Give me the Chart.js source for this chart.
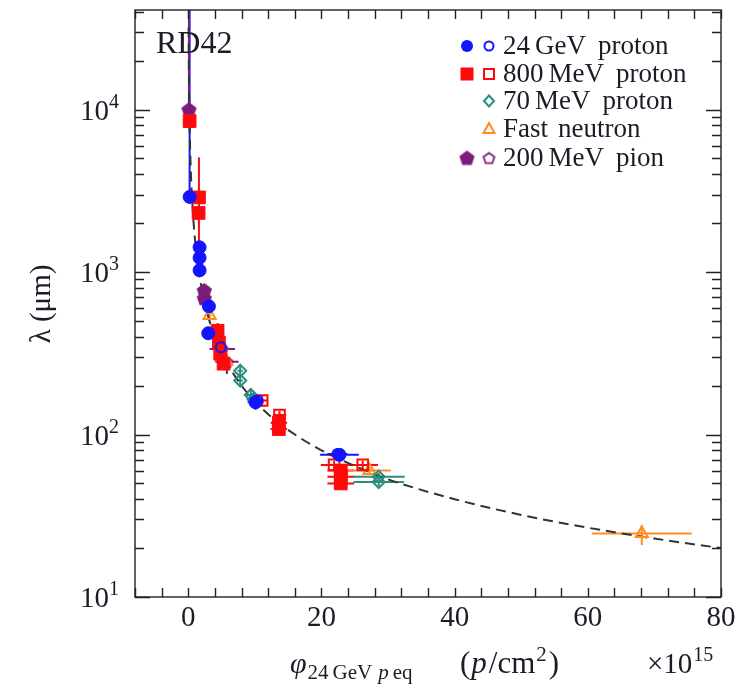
<!DOCTYPE html>
<html>
<head>
<meta charset="utf-8">
<script src="https://cdn.jsdelivr.net/npm/chart.js@4.4.1/dist/chart.umd.min.js"></script>
<style>
  html, body { margin: 0; padding: 0; background: #fff; }
  canvas { display: block; }
</style>
</head>
<body>
<canvas id="chart-lambda" width="751" height="688"></canvas>
<script>
// RD42 — mean free path vs fluence
const FONT = '"Liberation Serif", "DejaVu Serif", serif';
const INK = '#1c1c28';

// 24 GeV proton (filled / open)
const p24X = [0.2, 1.7, 1.7, 1.7, 3.1, 3.0, 10.1, 22.7];
const p24Y = [2900, 1420, 1225, 1025, 615, 420, 158, 75];
const p24Dx = [0, 0, 0, 0, 0.3, 0.8, 1.2, 2.9];
const p24Lo = [2900, 1330, 1150, 960, 580, 385, 142, 70];
const p24Hi = [1e6, 1510, 1300, 1090, 650, 460, 172, 81];

const p24oX = [4.9, 10.4, 22.4];
const p24oY = [345, 162, 76];
const p24oDx = [0.6, 1.0, 1.5];
const p24oLo = [320, 148, 71];
const p24oHi = [372, 176, 82];

// 800 MeV proton (filled / open)
const p800X = [0.2, 1.6, 1.55, 4.4, 4.6, 4.8, 5.3, 13.6, 13.6, 22.9, 22.9, 22.9];
const p800Y = [8500, 2880, 2310, 435, 368, 314, 273, 118, 108, 60, 55, 50];
const p800Dx = [0, 0, 0, 0.4, 0.4, 0.4, 0.4, 1.25, 1.25, 2.0, 2.0, 2.0];
const p800Lo = [8000, 1380, 2150, 390, 345, 275, 255, 110, 101, 57, 52, 47];
const p800Hi = [9000, 5080, 2480, 485, 392, 355, 292, 126, 115, 63, 58, 53];

const p800oX = [11.1, 13.7, 21.9, 26.2];
const p800oY = [162, 132, 65, 65];
const p800oDx = [0.9, 1.0, 2.0, 2.3];
const p800oLo = [152, 124, 61, 61];
const p800oHi = [172, 140, 69, 69];

// 70 MeV proton
const p70X = [5.0, 7.8, 7.8, 9.4, 9.8, 28.6, 28.6];
const p70Y = [336, 247, 215, 175, 165, 55, 51];
const p70Dx = [0.5, 0.4, 0.4, 1.0, 1.0, 3.9, 3.8];
const p70Lo = [315, 230, 200, 162, 152, 52, 48];
const p70Hi = [360, 265, 232, 188, 178, 58, 54];

// Fast neutron
const nX = [3.2, 5.7, 27.2, 68.1];
const nY = [540, 282, 60, 24.6];
const nDx = [0.3, 0.5, 3.2, 7.5];
const nLo = [500, 262, 57, 20.9];
const nHi = [585, 305, 63, 27.6];

// 200 MeV pion (filled / open)
const piX = [0.1, 2.4, 2.4];
const piY = [10000, 770, 690];
const piDx = [0, 0.3, 0.3];
const piLo = [9000, 720, 645];
const piHi = [1e6, 825, 740];

const pioX = [5.1, 5.8];
const pioY = [336, 280];
const pioDx = [1.9, 1.75];
const pioLo = [300, 236];
const pioHi = [375, 314];

// fit curve
const fitPhi = [0.05, 0.1, 0.2, 0.4, 0.7, 1, 1.5, 2, 3, 4, 5, 6, 8, 10, 13, 16, 20, 25, 30, 40, 50, 60, 70, 80];
const fitLambda = [32000, 16000, 8000, 4000, 2300, 1600, 1070, 800, 530, 400, 320, 267, 200, 160, 123, 100, 80, 64, 53, 40, 32, 26.7, 22.9, 20];

// axes
const yTickVals = [10, 20, 30, 40, 50, 60, 70, 80, 90,
  100, 200, 300, 400, 500, 600, 700, 800, 900,
  1000, 2000, 3000, 4000, 5000, 6000, 7000, 8000, 9000,
  10000, 20000, 30000, 40000];
const yDecades = [10, 100, 1000, 10000];
const yDecadeExp = ['1', '2', '3', '4'];

const COLORS = {
  blue: '#1414ff',
  red: '#ff0a0a',
  teal: '#2b8c80',
  orange: '#ff8c1e',
  purple: '#7d1a7d',
};

function points(xs, ys, dx, lo, hi) {
  return xs.map((x, i) => ({ x, y: ys[i], xMin: x - dx[i], xMax: x + dx[i], yMin: lo[i], yMax: hi[i] }));
}

function pentagon(size, color, filled, lw) {
  const c = document.createElement('canvas');
  c.width = size;
  c.height = size;
  const g = c.getContext('2d');
  const r = size / 2 - (filled ? 0.5 : lw);
  g.beginPath();
  for (let i = 0; i < 5; i++) {
    const a = -Math.PI / 2 + i * 2 * Math.PI / 5;
    const px = size / 2 + r * Math.cos(a);
    const py = size / 2 + 0.6 + r * Math.sin(a);
    if (i === 0) g.moveTo(px, py); else g.lineTo(px, py);
  }
  g.closePath();
  if (filled) {
    g.fillStyle = color;
    g.fill();
  } else {
    g.strokeStyle = color;
    g.lineWidth = lw;
    g.stroke();
  }
  return c;
}

const pentFilled = pentagon(17, COLORS.purple, true, 0);
const pentOpen = pentagon(15, COLORS.purple, false, 1.8);

function markerSet(label, data, color, style, radius, filled) {
  return {
    label,
    data,
    errColor: color,
    pointStyle: style,
    pointRadius: radius,
    pointBorderWidth: filled ? 1 : 2,
    pointBorderColor: color,
    pointBackgroundColor: filled ? color : 'rgba(0,0,0,0)',
    showLine: false,
  };
}

// error bars, drawn under the markers
const errorBars = {
  id: 'errorBars',
  beforeDatasetsDraw(chart) {
    const { ctx, chartArea: a, scales: { x, y } } = chart;
    ctx.save();
    ctx.beginPath();
    ctx.rect(a.left, a.top, a.right - a.left, a.bottom - a.top);
    ctx.clip();
    ctx.lineWidth = 2;
    chart.data.datasets.forEach((ds) => {
      if (!ds.errColor) return;
      ctx.strokeStyle = ds.errColor;
      ds.data.forEach((p) => {
        const px = x.getPixelForValue(p.x);
        const py = y.getPixelForValue(p.y);
        ctx.beginPath();
        if (p.xMax > p.xMin) {
          ctx.moveTo(x.getPixelForValue(p.xMin), py);
          ctx.lineTo(x.getPixelForValue(p.xMax), py);
        }
        if (p.yMax > p.yMin) {
          ctx.moveTo(px, y.getPixelForValue(p.yMin));
          ctx.lineTo(px, Math.max(y.getPixelForValue(p.yMax), a.top - 5));
        }
        ctx.stroke();
      });
    });
    ctx.restore();
  },
};

function drawRuns(ctx, runs, x, y) {
  // runs: [text, font, dy, gapAfter]
  runs.forEach(([t, f, dy, gap]) => {
    ctx.font = f;
    ctx.fillText(t, x, y + dy);
    x += ctx.measureText(t).width + (gap || 0);
  });
  return x;
}

function legendMarker(ctx, kind, cx, cy) {
  ctx.save();
  ctx.lineWidth = 2;
  switch (kind) {
    case 'blueF':
      ctx.fillStyle = COLORS.blue;
      ctx.beginPath(); ctx.arc(cx, cy, 6, 0, Math.PI * 2); ctx.fill();
      break;
    case 'blueO':
      ctx.strokeStyle = COLORS.blue;
      ctx.beginPath(); ctx.arc(cx, cy, 4.5, 0, Math.PI * 2); ctx.stroke();
      break;
    case 'redF':
      ctx.fillStyle = COLORS.red;
      ctx.fillRect(cx - 6.5, cy - 6.5, 13, 13);
      break;
    case 'redO':
      ctx.strokeStyle = COLORS.red;
      ctx.strokeRect(cx - 5, cy - 5, 10, 10);
      break;
    case 'tealO':
      ctx.strokeStyle = COLORS.teal;
      ctx.beginPath();
      ctx.moveTo(cx, cy - 5.5); ctx.lineTo(cx + 5, cy); ctx.lineTo(cx, cy + 5.5); ctx.lineTo(cx - 5, cy);
      ctx.closePath(); ctx.stroke();
      break;
    case 'orangeO':
      ctx.strokeStyle = COLORS.orange;
      ctx.beginPath();
      ctx.moveTo(cx, cy - 6); ctx.lineTo(cx + 5.5, cy + 4); ctx.lineTo(cx - 5.5, cy + 4);
      ctx.closePath(); ctx.stroke();
      break;
    case 'purpleF':
      ctx.drawImage(pentFilled, cx - 8.5, cy - 8.5);
      break;
    case 'purpleO':
      ctx.drawImage(pentOpen, cx - 7.5, cy - 7.5);
      break;
  }
  ctx.restore();
}

// frame, inward ticks, labels, titles and legend
const decorations = {
  id: 'decorations',
  afterDraw(chart) {
    const { ctx, chartArea: a, scales: { x, y } } = chart;
    ctx.save();
    ctx.strokeStyle = '#222';
    ctx.lineWidth = 1.4;
    ctx.strokeRect(a.left, a.top, a.right - a.left, a.bottom - a.top);

    ctx.beginPath();
    x.ticks.forEach((t) => {
      const px = Math.round(x.getPixelForValue(t.value)) + 0.5;
      ctx.moveTo(px, a.bottom); ctx.lineTo(px, a.bottom - 9);
      ctx.moveTo(px, a.top); ctx.lineTo(px, a.top + 9);
    });
    yTickVals.forEach((v) => {
      const py = Math.round(y.getPixelForValue(v)) + 0.5;
      const len = yDecades.includes(v) ? 15 : 9;
      ctx.moveTo(a.left, py); ctx.lineTo(a.left + len, py);
      ctx.moveTo(a.right, py); ctx.lineTo(a.right - len, py);
    });
    ctx.stroke();

    ctx.fillStyle = INK;
    ctx.textBaseline = 'alphabetic';
    ctx.textAlign = 'left';

    // y decade labels
    yDecades.forEach((v, i) => {
      const py = y.getPixelForValue(v);
      drawRuns(ctx, [
        ['10', `29px ${FONT}`, 10, 0],
        [yDecadeExp[i], `20px ${FONT}`, -2, 0],
      ], 80, py);
    });

    // y title
    ctx.save();
    ctx.translate(50, 304);
    ctx.rotate(-Math.PI / 2);
    ctx.font = `29px ${FONT}`;
    ctx.textAlign = 'center';
    ctx.fillText('λ (μm)', 0, 0);
    ctx.restore();

    // x title
    drawRuns(ctx, [
      ['φ', `italic 30px ${FONT}`, 0, 1],
      ['24', `21px ${FONT}`, 6, 4],
      ['GeV', `21px ${FONT}`, 6, 6],
      ['p', `italic 21px ${FONT}`, 6, 4],
      ['eq', `21px ${FONT}`, 6, 0],
    ], 290, 673);
    drawRuns(ctx, [
      ['(', `31px ${FONT}`, 0, 1],
      ['p', `italic 31px ${FONT}`, 0, 2],
      ['/cm', `31px ${FONT}`, 0, 1],
      ['2', `21px ${FONT}`, -12, 2],
      [')', `31px ${FONT}`, 0, 0],
    ], 460, 673);
    drawRuns(ctx, [
      ['×10', `29px ${FONT}`, 0, 1],
      ['15', `20px ${FONT}`, -12, 0],
    ], 647, 673);

    // RD42 tag
    ctx.font = `32px ${FONT}`;
    ctx.fillText('RD42', 156, 53);

    // legend
    const rows = [
      [['blueF', 'blueO'], ['24', 'GeV', 'proton'], [5, 12]],
      [['redF', 'redO'], ['800', 'MeV', 'proton'], [5, 12]],
      [[null, 'tealO'], ['70', 'MeV', 'proton'], [5, 12]],
      [[null, 'orangeO'], ['Fast', 'neutron'], [10]],
      [['purpleF', 'purpleO'], ['200', 'MeV', 'pion'], [5, 12]],
    ];
    const rowY = [46, 74, 101, 129, 158];
    ctx.textBaseline = 'middle';
    rows.forEach(([marks, words, gaps], i) => {
      if (marks[0]) legendMarker(ctx, marks[0], 467, rowY[i]);
      legendMarker(ctx, marks[1], 489, rowY[i]);
      ctx.fillStyle = INK;
      drawRuns(ctx, words.map((w, k) => [w, `27px ${FONT}`, 1, gaps[k] || 0]), 503, rowY[i]);
    });
    ctx.restore();
  },
};

new Chart(document.getElementById('chart-lambda'), {
  type: 'scatter',
  data: {
    datasets: [
      markerSet('24 GeV proton', points(p24X, p24Y, p24Dx, p24Lo, p24Hi), COLORS.blue, 'circle', 6.5, true),
      markerSet('24 GeV proton (open)', points(p24oX, p24oY, p24oDx, p24oLo, p24oHi), COLORS.blue, 'circle', 5, false),
      markerSet('800 MeV proton', points(p800X, p800Y, p800Dx, p800Lo, p800Hi), COLORS.red, 'rect', 9, true),
      markerSet('800 MeV proton (open)', points(p800oX, p800oY, p800oDx, p800oLo, p800oHi), COLORS.red, 'rect', 7.5, false),
      markerSet('70 MeV proton', points(p70X, p70Y, p70Dx, p70Lo, p70Hi), COLORS.teal, 'rectRot', 6, false),
      markerSet('Fast neutron', points(nX, nY, nDx, nLo, nHi), COLORS.orange, 'triangle', 7, false),
      markerSet('200 MeV pion', points(piX, piY, piDx, piLo, piHi), COLORS.purple, pentFilled, 8, true),
      markerSet('200 MeV pion (open)', points(pioX, pioY, pioDx, pioLo, pioHi), COLORS.purple, pentOpen, 7, false),
      {
        label: 'fit',
        data: fitPhi.map((p, i) => ({ x: p, y: fitLambda[i] })),
        showLine: true,
        borderColor: '#333',
        borderWidth: 2,
        borderDash: [10, 6],
        pointRadius: 0,
        cubicInterpolationMode: 'monotone',
      },
    ],
  },
  options: {
    responsive: false,
    animation: false,
    layout: { padding: { left: 0, top: 8, right: 30, bottom: 0 } },
    plugins: {
      legend: { display: false },
      tooltip: { enabled: false },
    },
    scales: {
      x: {
        type: 'linear',
        min: -8,
        max: 80,
        grid: { display: false, drawTicks: false },
        border: { display: false },
        ticks: {
          stepSize: 4,
          autoSkip: false,
          maxRotation: 0,
          padding: 4,
          color: INK,
          font: { family: FONT, size: 29 },
          callback: (v) => (v % 20 === 0 ? String(v) : ''),
        },
        afterFit: (s) => { s.height = 91; },
      },
      y: {
        type: 'logarithmic',
        min: 10,
        max: 41000,
        grid: { display: false, drawTicks: false },
        border: { display: false },
        ticks: { display: false },
        afterBuildTicks: (s) => { s.ticks = yTickVals.map((v) => ({ value: v })); },
        afterFit: (s) => { s.width = 135; },
      },
    },
  },
  plugins: [errorBars, decorations],
});
</script>
</body>
</html>
